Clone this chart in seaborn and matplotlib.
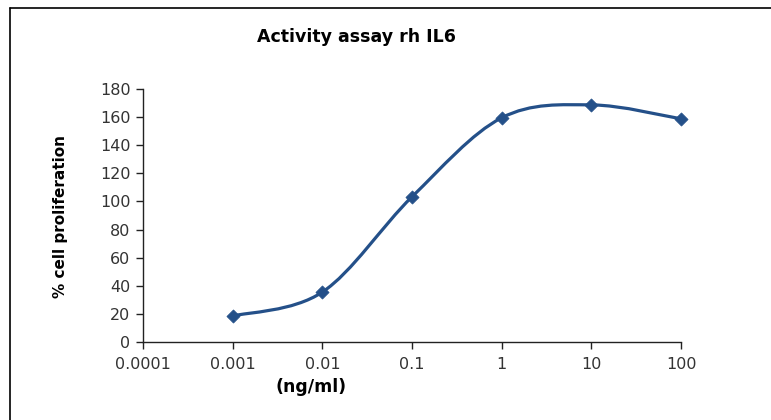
import numpy as np
import pandas as pd
import matplotlib
matplotlib.use("Agg")
import matplotlib.pyplot as plt
import seaborn as sns
from matplotlib.path import Path
from matplotlib.patches import PathPatch
from matplotlib.lines import Line2D

# ---- data ----
concentration = [0.001, 0.01, 0.1, 1, 10, 100]
proliferation = [18.5, 35.5, 103.3, 159.5, 168.7, 158.8]
x_ticks = [0.0001, 0.001, 0.01, 0.1, 1, 10, 100]
x_tick_labels = ["0.0001", "0.001", "0.01", "0.1", "1", "10", "100"]
y_ticks = [0, 20, 40, 60, 80, 100, 120, 140, 160, 180]

title = "Activity assay rh IL6"
xlabel = "(ng/ml)"
ylabel = "% cell proliferation"

color = "#245089"
text_grey = "#333333"

sns.set_theme(style="white")
plt.rcParams["font.family"] = ["DejaVu Sans"]

fig = plt.figure(figsize=(7.71, 4.20), dpi=100)
ax = fig.add_axes([143 / 771, 1 - 342 / 420, (681 - 143) / 771, (342 - 89) / 420])

df = pd.DataFrame({"conc": concentration, "prolif": proliferation})

# smoothed line (Excel-like Catmull-Rom Bezier, built in log-x space)
u = np.log10(np.array(concentration, dtype=float))
v = np.array(proliferation, dtype=float)
n = len(u)
verts = [(10 ** u[0], v[0])]
codes = [Path.MOVETO]
for i in range(n - 1):
    im1 = max(i - 1, 0)
    ip2 = min(i + 2, n - 1)
    c1u = u[i] + (u[i + 1] - u[im1]) / 6
    c1v = v[i] + (v[i + 1] - v[im1]) / 6
    c2u = u[i + 1] - (u[ip2] - u[i]) / 6
    c2v = v[i + 1] - (v[ip2] - v[i]) / 6
    verts += [(10 ** c1u, c1v), (10 ** c2u, c2v), (10 ** u[i + 1], v[i + 1])]
    codes += [Path.CURVE4] * 3
ax.set_xscale("log")
curve = PathPatch(Path(verts, codes), facecolor="none", edgecolor=color,
                  lw=2.3, capstyle="round", joinstyle="round", zorder=2)
ax.add_patch(curve)
curve.set_clip_on(False)

sns.scatterplot(data=df, x="conc", y="prolif", marker="D", s=45, color=color,
                edgecolor=color, linewidth=0.5, ax=ax, zorder=3, legend=False)
for coll in ax.collections:
    coll.set_clip_on(False)

ax.set_xlim(0.0001, 100)
ax.set_ylim(0, 180)
ax.set_xticks(x_ticks)
ax.set_xticklabels(x_tick_labels)
ax.xaxis.set_minor_locator(matplotlib.ticker.NullLocator())
ax.set_yticks(y_ticks)
ax.set_xlabel("")
ax.set_ylabel("")

for s in ["top", "right"]:
    ax.spines[s].set_visible(False)
for s in ["left", "bottom"]:
    ax.spines[s].set_color("#222222")
    ax.spines[s].set_linewidth(1.0)

ax.tick_params(axis="both", which="major", direction="out", length=5, width=1.0,
               color="#222222", labelsize=11.5, labelcolor=text_grey)
ax.tick_params(axis="y", pad=4)
ax.tick_params(axis="x", pad=6)
ax.tick_params(bottom=True, left=True)

fig.text(356 / 771, 1 - 37 / 420, title, ha="center", va="center",
         fontsize=12.5, fontweight="bold", color="black")
fig.text(311 / 771, 1 - 387 / 420, xlabel, ha="center", va="center",
         fontsize=12.5, fontweight="bold", color="black")
fig.text(60 / 771, 1 - 216 / 420, ylabel, ha="center", va="center", rotation=90,
         fontsize=11, fontweight="bold", color="black")

# outer chart border (left and top visible)
fig.add_artist(Line2D([9.5 / 771, 9.5 / 771], [0, 1 - 8 / 420], color="black", lw=1.2,
                      transform=fig.transFigure))
fig.add_artist(Line2D([9.5 / 771, 1], [1 - 8 / 420, 1 - 8 / 420], color="black", lw=1.2,
                      transform=fig.transFigure))

fig.savefig("out.png", dpi=100)
